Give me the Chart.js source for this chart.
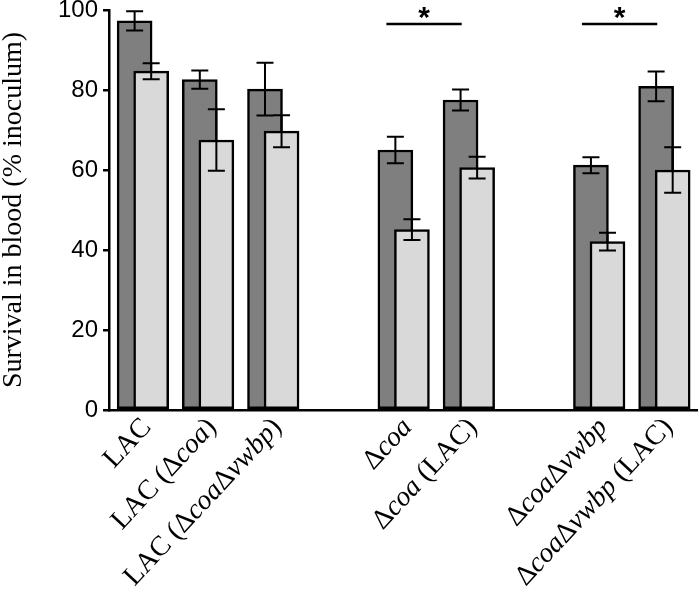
<!DOCTYPE html>
<html>
<head>
<meta charset="utf-8">
<script src="https://cdn.jsdelivr.net/npm/chart.js@4.4.1/dist/chart.umd.min.js"></script>
<style>
  html, body { margin: 0; padding: 0; background: #fff; }
  canvas { display: block; }
</style>
</head>
<body>
<canvas id="chart" width="699" height="597"></canvas>
<script>
// group positions on the x axis (gaps at 3 and 6)
const slots = [0, 1, 2, 4, 5, 7, 8];
// _..._ marks italic parts
const strainLabels = [
  'LAC',
  'LAC (Δ_coa_)',
  'LAC (Δ_coa_Δ_vwbp_)',
  'Δ_coa_',
  'Δ_coa_ (LAC)',
  'Δ_coa_Δ_vwbp_',
  'Δ_coa_Δ_vwbp_ (LAC)'
];
const darkVals = [97.3, 82.6, 80.2, 65.0, 77.5, 61.2, 80.9];
const darkErr = [2.4, 2.3, 6.6, 3.3, 2.6, 2.0, 3.7];
const lightVals = [84.7, 67.5, 69.7, 45.1, 60.6, 42.1, 60.0];
const lightErr = [2.0, 7.7, 4.0, 2.6, 2.7, 2.2, 5.7];
const yTicks = [0, 20, 40, 60, 80, 100];
// significance: pairs of group indices
const sigPairs = [[3, 4], [5, 6]];
const sigLevel = 96.5;

const shift = 0.127;

const darkData = slots.map((s, i) => ({ x: s - shift, y: darkVals[i], err: darkErr[i] }));
const lightData = slots.map((s, i) => ({ x: s + shift, y: lightVals[i], err: lightErr[i] }));

const errorBars = {
  id: 'errorBars',
  afterDatasetsDraw(chart) {
    const ctx = chart.ctx;
    const xs = chart.scales.x, ys = chart.scales.y;
    ctx.save();
    ctx.strokeStyle = '#000';
    ctx.lineWidth = 2;
    chart.data.datasets.forEach(ds => {
      ds.data.forEach(p => {
        const x = xs.getPixelForValue(p.x);
        const top = ys.getPixelForValue(p.y + p.err);
        const bot = ys.getPixelForValue(p.y - p.err);
        ctx.beginPath();
        ctx.moveTo(x, top); ctx.lineTo(x, bot);
        ctx.moveTo(x - 8.5, top); ctx.lineTo(x + 8.5, top);
        ctx.moveTo(x - 8.5, bot); ctx.lineTo(x + 8.5, bot);
        ctx.stroke();
      });
    });
    // significance bars
    ctx.fillStyle = '#000';
    ctx.lineWidth = 2.5;
    sigPairs.forEach(([a, b]) => {
      const x1 = xs.getPixelForValue(slots[a] - 0.265);
      const x2 = xs.getPixelForValue(slots[b] - 0.11);
      const y = ys.getPixelForValue(sigLevel);
      ctx.beginPath();
      ctx.moveTo(x1, y); ctx.lineTo(x2, y);
      ctx.stroke();
      ctx.font = 'bold 30px "Liberation Sans", Arial, sans-serif';
      ctx.textAlign = 'center';
      ctx.textBaseline = 'alphabetic';
      ctx.fillText('*', (x1 + x2) / 2, y + 3);
    });
    ctx.restore();
  }
};

const rotatedLabels = {
  id: 'rotatedLabels',
  afterDraw(chart) {
    const ctx = chart.ctx;
    const xs = chart.scales.x;
    const y0 = chart.chartArea.bottom;
    ctx.save();
    ctx.fillStyle = '#000';
    ctx.textBaseline = 'middle';
    strainLabels.forEach((lab, i) => {
      const parts = lab.split('_');
      const fonts = parts.map((t, k) => (k % 2 ? 'italic ' : '') + '28px "Liberation Serif", "Times New Roman", serif');
      let total = 0;
      const widths = parts.map((t, k) => { ctx.font = fonts[k]; const w = ctx.measureText(t).width; total += w; return w; });
      ctx.save();
      ctx.translate(xs.getPixelForValue(slots[i]) + 4, y0 + 13);
      ctx.rotate(-47 * Math.PI / 180);
      let x = -total;
      parts.forEach((t, k) => {
        ctx.font = fonts[k];
        ctx.textAlign = 'left';
        ctx.fillText(t, x, 0);
        x += widths[k];
      });
      ctx.restore();
    });
    ctx.restore();
  }
};

new Chart(document.getElementById('chart'), {
  type: 'bar',
  data: {
    datasets: [
      {
        label: 'light',
        data: lightData,
        backgroundColor: '#d9d9d9',
        borderColor: '#000',
        borderWidth: 2.5,
        borderSkipped: false,
        barThickness: 35,
        grouped: false,
        order: 0
      },
      {
        label: 'dark',
        data: darkData,
        backgroundColor: '#7f7f7f',
        borderColor: '#000',
        borderWidth: 2.5,
        borderSkipped: false,
        barThickness: 35,
        grouped: false,
        order: 1
      }
    ]
  },
  options: {
    responsive: false,
    animation: false,
    layout: { padding: { top: 10, right: 2, left: 0, bottom: 0 } },
    plugins: { legend: { display: false }, tooltip: { enabled: false } },
    scales: {
      x: {
        type: 'linear',
        min: -0.52,
        max: 8.5,
        offset: false,
        grid: { display: true, drawOnChartArea: false, drawTicks: false },
        border: { display: true, color: '#000', width: 2.5 },
        ticks: { display: false },
        afterFit(scale) { scale.height = 187; scale.paddingLeft = 0; scale.paddingRight = 0; }
      },
      y: {
        min: 0,
        max: 100,
        afterBuildTicks(scale) { scale.ticks = yTicks.map(v => ({ value: v })); },
        grid: { display: true, drawOnChartArea: false, drawTicks: true, tickLength: 6, color: '#000', lineWidth: 2.5 },
        border: { display: true, color: '#000', width: 2.5 },
        ticks: {
          color: '#000',
          padding: 5,
          font: { family: '"Liberation Sans", Arial, sans-serif', size: 24 }
        },
        title: {
          display: true,
          text: 'Survival in blood (% inoculum)',
          color: '#000',
          padding: { top: 0, bottom: 0 },
          font: { family: '"Liberation Serif", "Times New Roman", serif', size: 28, lineHeight: 1 }
        },
        afterFit(scale) { scale.width = 109; scale.paddingTop = 0; scale.paddingBottom = 0; }
      }
    }
  },
  plugins: [errorBars, rotatedLabels]
});
</script>
</body>
</html>
